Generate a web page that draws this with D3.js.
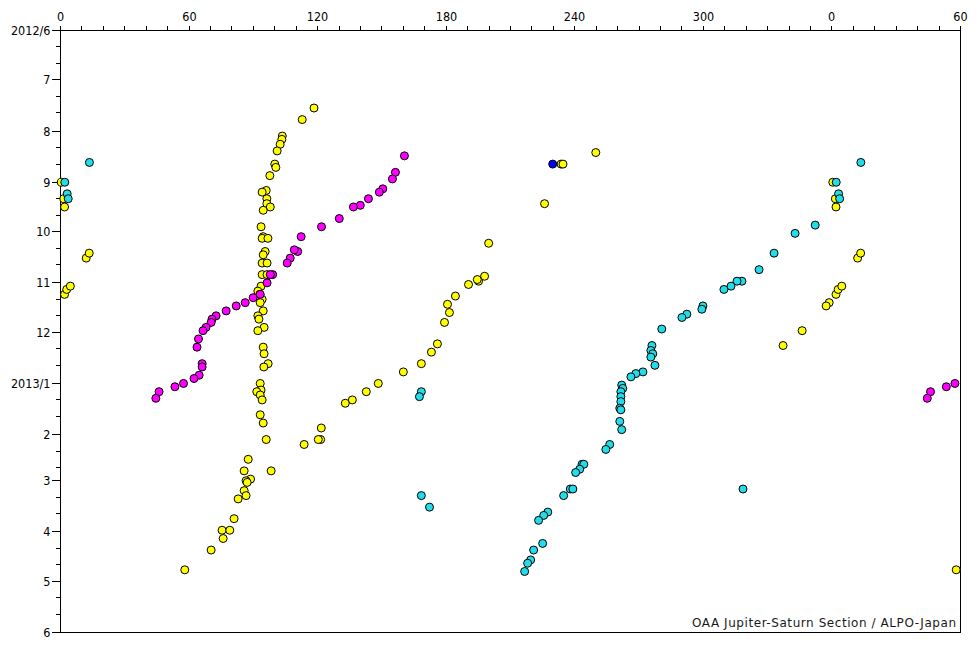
<!DOCTYPE html>
<html>
<head>
<meta charset="utf-8">
<script src="https://cdn.jsdelivr.net/npm/d3@7"></script>
<style>
  html, body { margin: 0; padding: 0; background: #fff; }
  svg { display: block; }
  .tick-label { font-family: "Liberation Sans Narrow", "DejaVu Sans Condensed", "Liberation Sans", sans-serif; font-size: 12.5px; fill: #000; }
  .credit { font-family: "DejaVu Sans", "Verdana", sans-serif; font-size: 12px; fill: #1a1a1a; }
</style>
</head>
<body>
<svg id="chart" width="980" height="650"></svg>
<script>
// ---------------- DATA (longitude in degrees, observation date) ----------------
const yellowSpots = [
  [118.3,"2012-07-18"],[112.8,"2012-07-25"],[103.5,"2012-08-04"],[103.3,"2012-08-06"],
  [102.5,"2012-08-09"],[101.1,"2012-08-13"],[100.0,"2012-08-21"],[100.5,"2012-08-23"],
  [97.7,"2012-08-28"],[96.0,"2012-09-06"],[94.1,"2012-09-07"],[96.3,"2012-09-11"],
  [96.3,"2012-09-14"],[97.9,"2012-09-16"],[94.6,"2012-09-18"],[93.6,"2012-09-28"],
  [94.6,"2012-10-04"],[94.1,"2012-10-05"],[96.8,"2012-10-05"],[95.5,"2012-10-13"],
  [94.6,"2012-10-15"],[94.1,"2012-10-20"],[96.4,"2012-10-20"],[94.1,"2012-10-27"],
  [96.4,"2012-10-27"],[93.6,"2012-11-03"],[92.1,"2012-11-06"],[93.0,"2012-11-08"],
  [94.1,"2012-11-11"],[93.2,"2012-11-13"],[94.6,"2012-11-18"],[92.1,"2012-11-21"],
  [92.6,"2012-11-23"],[95.0,"2012-11-28"],[92.1,"2012-11-30"],[94.6,"2012-12-10"],
  [95.0,"2012-12-14"],[96.9,"2012-12-20"],[94.9,"2012-12-22"],[93.2,"2013-01-01"],
  [93.6,"2013-01-05"],[91.6,"2013-01-06"],[93.2,"2013-01-08"],[94.1,"2013-01-11"],
  [93.2,"2013-01-20"],[94.6,"2013-01-25"],[96.0,"2013-02-04"],[87.6,"2013-02-16"],
  [85.7,"2013-02-23"],[98.3,"2013-02-23"],[88.7,"2013-02-28"],[86.6,"2013-03-01"],
  [87.1,"2013-03-02"],[85.7,"2013-03-07"],[86.6,"2013-03-10"],[82.9,"2013-03-12"],
  [81.0,"2013-03-24"],[75.4,"2013-03-31"],[79.0,"2013-03-31"],[75.9,"2013-04-05"],
  [70.3,"2013-04-12"],[58.0,"2013-04-24"],
  [121.7,"2013-01-28"],[121.4,"2013-02-04"],[120.3,"2013-02-04"],[113.7,"2013-02-07"],
  [199.8,"2012-10-08"],[197.9,"2012-10-28"],[195.1,"2012-10-31"],[194.5,"2012-10-30"],
  [190.4,"2012-11-02"],[184.3,"2012-11-09"],[180.6,"2012-11-14"],[181.5,"2012-11-19"],
  [179.2,"2012-11-25"],[175.9,"2012-12-08"],[173.1,"2012-12-13"],[168.4,"2012-12-20"],
  [160.0,"2012-12-25"],[148.3,"2013-01-01"],[142.7,"2013-01-06"],[136.2,"2013-01-11"],
  [132.9,"2013-01-13"],
  [249.8,"2012-08-14"],[233.6,"2012-08-21"],[234.5,"2012-08-21"],[225.9,"2012-09-14"],
  [0.4,"2012-09-01"],[1.6,"2012-09-11"],[1.9,"2012-09-16"],[12.0,"2012-10-17"],
  [13.4,"2012-10-14"],[1.9,"2012-11-08"],[2.9,"2012-11-05"],[4.6,"2012-11-03"],
  [358.7,"2012-11-13"],[357.3,"2012-11-15"],[346.1,"2012-11-30"],[337.2,"2012-12-09"]
];

const magentaSpots = [
  [160.5,"2012-08-16"],[156.3,"2012-08-26"],[154.9,"2012-08-30"],[150.4,"2012-09-05"],
  [148.8,"2012-09-07"],[143.7,"2012-09-11"],[139.9,"2012-09-15"],[136.7,"2012-09-16"],
  [130.1,"2012-09-23"],[121.8,"2012-09-28"],[112.3,"2012-10-04"],[110.7,"2012-10-13"],
  [109.1,"2012-10-12"],[107.2,"2012-10-17"],[105.8,"2012-10-20"],[99.0,"2012-10-27"],
  [97.9,"2012-10-27"],[96.4,"2012-11-01"],[93.2,"2012-11-08"],[89.9,"2012-11-10"],
  [86.2,"2012-11-13"],[82.0,"2012-11-15"],[77.3,"2012-11-18"],[72.6,"2012-11-21"],
  [70.7,"2012-11-23"],[70.3,"2012-11-25"],[67.9,"2012-11-28"],[66.5,"2012-11-30"],
  [64.4,"2012-12-05"],[63.7,"2012-12-10"],[66.1,"2012-12-20"],[66.1,"2012-12-22"],
  [64.7,"2012-12-27"],[62.3,"2012-12-29"],[57.4,"2013-01-01"],[53.4,"2013-01-03"],
  [46.0,"2013-01-06"],[44.5,"2013-01-10"]
];

const cyanSpots = [
  [13.5,"2012-08-20"],[2.0,"2012-09-01"],[3.1,"2012-09-08"],[3.6,"2012-09-11"],
  [352.2,"2012-09-27"],[342.8,"2012-10-02"],[333.0,"2012-10-14"],[326.0,"2012-10-24"],
  [318.0,"2012-10-31"],[315.7,"2012-10-31"],[312.9,"2012-11-03"],[309.6,"2012-11-05"],
  [299.8,"2012-11-15"],[299.3,"2012-11-17"],[292.3,"2012-11-20"],[290.0,"2012-11-22"],
  [280.6,"2012-11-29"],[276.0,"2012-12-09"],[275.5,"2012-12-12"],[276.4,"2012-12-14"],
  [275.5,"2012-12-16"],[277.4,"2012-12-21"],[271.8,"2012-12-25"],[268.5,"2012-12-26"],
  [266.2,"2012-12-28"],[261.9,"2013-01-02"],[262.4,"2013-01-04"],[261.5,"2013-01-06"],
  [261.5,"2013-01-09"],[261.5,"2013-01-12"],[261.0,"2013-01-16"],[261.5,"2013-01-17"],
  [261.0,"2013-01-24"],[261.9,"2013-01-29"],[256.3,"2013-02-07"],[254.5,"2013-02-10"],
  [243.4,"2013-02-19"],[244.2,"2013-02-19"],[242.3,"2013-02-22"],[240.4,"2013-02-24"],
  [237.9,"2013-03-06"],[239.1,"2013-03-06"],[234.8,"2013-03-10"],[227.4,"2013-03-20"],
  [225.5,"2013-03-22"],[223.1,"2013-03-25"],[225.0,"2013-04-08"],[220.8,"2013-04-12"],
  [219.4,"2013-04-18"],[218.0,"2013-04-20"],[216.6,"2013-04-25"],
  [168.4,"2013-03-10"],[172.2,"2013-03-17"],[168.4,"2013-01-06"],[167.5,"2013-01-09"],
  [318.5,"2013-03-06"]
];

const blueSpots = [
  [229.7,"2012-08-21"]
];

const seriesColors = ["#ffff00", "#ff00ff", "#22dde9", "#0000ff"];
const xTickStep = 10;
const xLabelStep = 60;
const xDomain = [0, 420];
const wrapLimit = 60;           // longitudes below this are repeated at +360
const dateDomain = ["2012-06-01", "2013-06-01"];
const creditText = "OAA Jupiter-Saturn Section / ALPO-Japan";

// ---------------- CHART ----------------
const parse = d3.utcParse("%Y-%m-%d");
const svg = d3.select("#chart");

const pLeft = 60.5, pRight = 960.5, pTop = 30.5, pBottom = 632.5;

const x = d3.scaleLinear().domain(xDomain).range([pLeft, pRight]);
const y = d3.scaleUtc().domain(dateDomain.map(parse)).range([pTop, pBottom]);
const snap = v => Math.round(v - 0.5) + 0.5;

// Frame
const frame = svg.append("g").attr("stroke", "#000").attr("stroke-width", 1).attr("shape-rendering", "crispEdges");
frame.append("line").attr("x1", pLeft).attr("x2", pRight).attr("y1", pTop).attr("y2", pTop);
frame.append("line").attr("x1", pLeft).attr("x2", pRight).attr("y1", pBottom).attr("y2", pBottom);
frame.append("line").attr("x1", pLeft).attr("x2", pLeft).attr("y1", pTop).attr("y2", pBottom);
frame.append("line").attr("x1", pRight).attr("x2", pRight).attr("y1", pTop).attr("y2", pBottom);

// Top (longitude) axis
const xTicks = d3.range(xDomain[0], xDomain[1] + 0.001, xTickStep);
const xAxis = d3.axisTop(x)
  .tickValues(xTicks)
  .tickSize(5)
  .tickPadding(5)
  .tickFormat(v => (v % xLabelStep === 0) ? String(v % 360) : "");
const gx = svg.append("g").attr("transform", `translate(0,${pTop})`).call(xAxis);
gx.select(".domain").remove();
gx.selectAll(".tick").attr("transform", d => `translate(${snap(x(d))},0)`);
gx.selectAll(".tick line").attr("stroke", "#000").attr("shape-rendering", "crispEdges");
gx.selectAll(".tick text").attr("class", "tick-label").attr("font-family", null).attr("font-size", null);

// Left (date) axis: month starts (major, labelled), 11th and 21st (minor)
const dStart = parse(dateDomain[0]), dEnd = parse(dateDomain[1]);
const yTicks = [];
d3.utcMonths(dStart, d3.utcDay.offset(dEnd, 1)).forEach(m => {
  yTicks.push(m);
  if (m < dEnd) {
    yTicks.push(d3.utcDay.offset(m, 10));
    yTicks.push(d3.utcDay.offset(m, 20));
  }
});
const isMajor = d => d.getUTCDate() === 1;
const fmtDate = d => {
  const mo = d.getUTCMonth() + 1;
  if (mo === 1 || +d === +dStart) return d.getUTCFullYear() + "/" + mo;
  return String(mo);
};
const gy = svg.append("g").attr("transform", `translate(${pLeft},0)`);
const yt = gy.selectAll("g.ytick").data(yTicks).join("g")
  .attr("class", "ytick")
  .attr("transform", d => `translate(0,${snap(y(d))})`);
yt.append("line")
  .attr("x1", d => isMajor(d) ? -9 : -5).attr("x2", 0)
  .attr("stroke", "#000").attr("shape-rendering", "crispEdges");
yt.filter(isMajor).append("text")
  .attr("class", "tick-label")
  .attr("x", -10).attr("dy", "0.36em")
  .attr("text-anchor", "end")
  .text(fmtDate);

// Data points (wrap low longitudes to +360)
function expand(arr) {
  const out = [];
  arr.forEach(([lon, ds]) => {
    const dt = parse(ds);
    out.push({lon, dt});
    if (lon < wrapLimit) out.push({lon: lon + 360, dt});
  });
  return out;
}
const allSeries = [yellowSpots, magentaSpots, cyanSpots, blueSpots];
allSeries.forEach((s, i) => {
  svg.append("g").selectAll("circle").data(expand(s)).join("circle")
    .attr("cx", d => x(d.lon))
    .attr("cy", d => y(d.dt))
    .attr("r", 4)
    .attr("fill", seriesColors[i])
    .attr("stroke", "#000")
    .attr("stroke-width", 1);
});

// Credit
svg.append("text").attr("class", "credit")
  .attr("x", 956).attr("y", 627)
  .attr("text-anchor", "end")
  .attr("textLength", 264)
  .attr("lengthAdjust", "spacing")
  .text(creditText);
</script>
</body>
</html>
